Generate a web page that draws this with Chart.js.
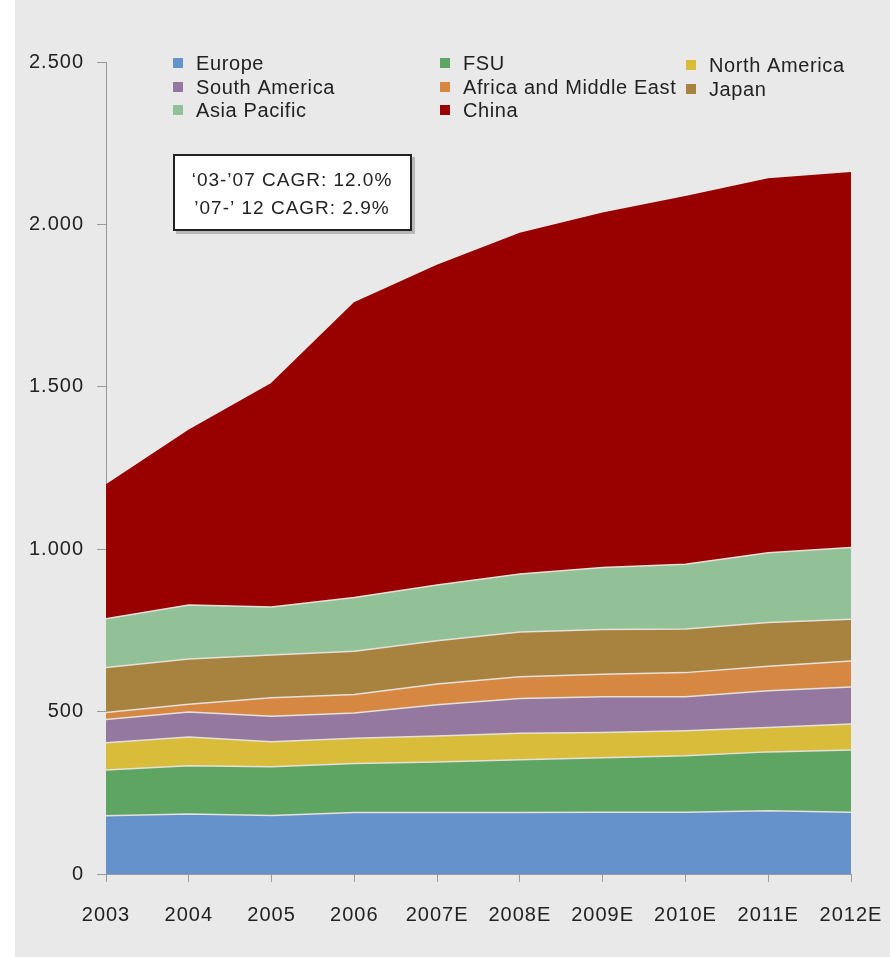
<!DOCTYPE html>
<html>
<head>
<meta charset="utf-8">
<script src="https://cdn.jsdelivr.net/npm/chart.js@4.4.1/dist/chart.umd.min.js"></script>
<style>
  html, body { margin: 0; padding: 0; background: #fff; }
  canvas { display: block; }
</style>
</head>
<body>
<canvas id="chart" width="890" height="957" style="width:890px;height:957px"></canvas>
<script>
// values, stacked bottom to top
const years = ["2003", "2004", "2005", "2006", "2007E", "2008E", "2009E", "2010E", "2011E", "2012E"];
const europe = [179, 185, 180, 189, 189, 189, 190, 190, 195, 190];
const fsu = [141, 148, 150, 151, 156, 163, 168, 174, 181, 192];
const northAmerica = [84, 89, 77, 78, 80, 81, 78, 77, 75, 80];
const southAmerica = [72, 77, 79, 78, 96, 107, 110, 105, 113, 114];
const africaMiddleEast = [21, 24, 57, 57, 64, 67, 69, 74, 76, 80];
const japan = [139, 139, 131, 133, 133, 138, 138, 134, 134, 128];
const asiaPacific = [150, 166, 148, 165, 172, 179, 191, 200, 215, 221];
const china = [411, 538, 688, 907, 984, 1048, 1090, 1131, 1151, 1154];

const seriesNames = ["Europe", "FSU", "North America", "South America", "Africa and Middle East", "Japan", "Asia Pacific", "China"];
const seriesValues = [europe, fsu, northAmerica, southAmerica, africaMiddleEast, japan, asiaPacific, china];
const seriesColors = ["#6592cb", "#5ea463", "#d8bc3a", "#94789f", "#d68843", "#a8823f", "#92c197", "#990000"];

const cagrLines = ["\u201803-\u201907 CAGR: 12.0%", "\u201907-\u2019 12 CAGR: 2.9%"];

const FONT = '"Liberation Sans", Arial, sans-serif';
Chart.defaults.font.family = FONT;
Chart.defaults.font.size = 20;
Chart.defaults.color = "#222";

const spacing = (chart) => {
    chart.ctx.letterSpacing = "1px";
};

const backdrop = {
    id: "backdrop",
    beforeLayout: spacing,
    beforeDraw(chart) {
        const ctx = chart.ctx;
        ctx.save();
        ctx.fillStyle = "#e9e9e9";
        ctx.fillRect(15, 0, chart.width - 15, chart.height);
        ctx.restore();
        spacing(chart);
    },
};

// legend in a 3 column grid plus the CAGR note
const overlay = {
    id: "overlay",
    afterDraw(chart) {
        const ctx = chart.ctx;
        ctx.save();
        ctx.letterSpacing = "0.6px";
        ctx.font = "20px " + FONT;
        ctx.textBaseline = "middle";
        ctx.textAlign = "left";
        chart.data.datasets.forEach((ds, i) => {
            const col = i % 3;
            const row = Math.floor(i / 3);
            const x = [173, 440, 686][col];
            const y = [63, 87, 110][row] + (col === 2 ? 2 : 0);
            ctx.fillStyle = ds.backgroundColor;
            ctx.fillRect(x, y - 5, 10, 10);
            ctx.fillStyle = "#222";
            ctx.fillText(ds.label, x + 23, y + 1);
        });

        // CAGR box
        ctx.letterSpacing = "1px";
        ctx.fillStyle = "#b8b8b8";
        ctx.fillRect(176, 157, 239, 77);
        ctx.fillStyle = "#fff";
        ctx.fillRect(173, 154, 239, 77);
        ctx.strokeStyle = "#222";
        ctx.lineWidth = 2;
        ctx.strokeRect(174, 155, 237, 75);
        ctx.fillStyle = "#222";
        ctx.font = "19px " + FONT;
        ctx.textAlign = "center";
        ctx.fillText(cagrLines[0], 292, 181);
        ctx.fillText(cagrLines[1], 292, 209);
        ctx.restore();
    },
};

const datasets = seriesNames.map((name, i) => ({
    label: name,
    data: seriesValues[i],
    backgroundColor: seriesColors[i],
    borderColor: i === seriesNames.length - 1 ? seriesColors[i] : "#e4e0da",
    borderWidth: 1.5,
    fill: i === 0 ? "origin" : "-1",
    pointRadius: 0,
    pointHoverRadius: 0,
    tension: 0,
}));

new Chart(document.getElementById("chart"), {
    type: "line",
    data: { labels: years, datasets: datasets },
    options: {
        responsive: false,
        animation: false,
        layout: { padding: { top: 62, right: 39, left: 0, bottom: 0 } },
        plugins: {
            legend: { display: false },
            tooltip: { enabled: false },
        },
        scales: {
            x: {
                offset: false,
                grid: {
                    drawOnChartArea: false,
                    drawTicks: true,
                    tickLength: 8,
                    color: "#999",
                },
                border: { color: "#999", width: 1 },
                ticks: { padding: 21, maxRotation: 0, autoSkip: false, color: "#222" },
                afterFit(scale) {
                    scale.height = 83;
                    scale.paddingLeft = 0;
                    scale.paddingRight = 0;
                },
            },
            y: {
                stacked: true,
                min: 0,
                max: 2500,
                grid: {
                    drawOnChartArea: false,
                    drawTicks: true,
                    tickLength: 9,
                    color: "#999",
                },
                border: { color: "#999", width: 1 },
                ticks: {
                    stepSize: 500,
                    padding: 13,
                    color: "#222",
                    callback: (v) => v.toLocaleString("de-DE"),
                },
                afterFit(scale) {
                    scale.width = 106;
                },
            },
        },
    },
    plugins: [backdrop, overlay],
});
</script>
</body>
</html>
